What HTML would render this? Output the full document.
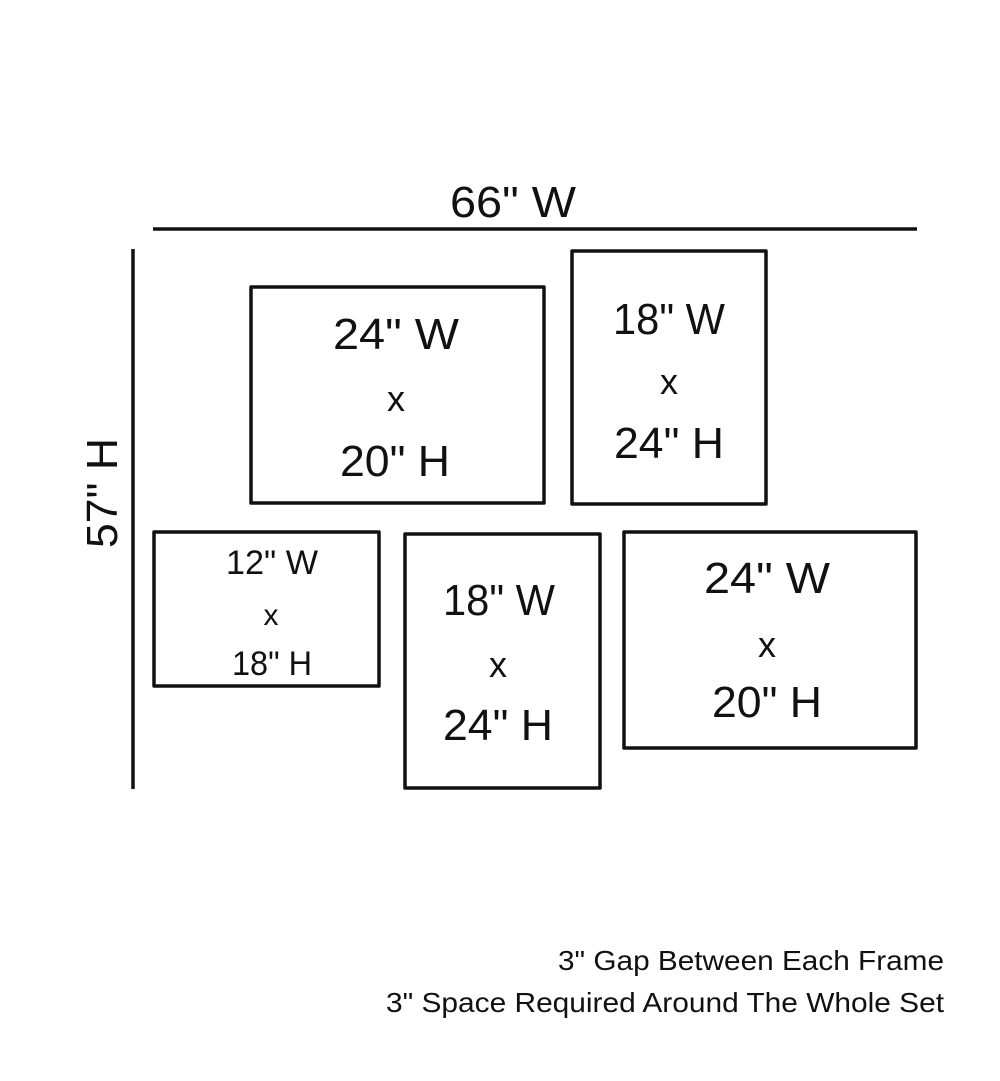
<!DOCTYPE html>
<html><head><meta charset="utf-8"><style>
html,body{margin:0;padding:0;background:#fff;}
svg{display:block}
text{font-family:"Liberation Sans",sans-serif;fill:#111;}
</style></head><body>
<svg width="1000" height="1081" viewBox="0 0 1000 1081" xmlns="http://www.w3.org/2000/svg">
<g stroke="#111" fill="none" stroke-width="3.5" stroke-linejoin="round">
<line x1="153" y1="229" x2="917" y2="229"/>
<line x1="133" y1="249" x2="133" y2="789"/>
<rect x="251" y="287" width="293" height="216"/>
<rect x="572" y="251" width="194" height="253"/>
<rect x="154" y="532" width="225" height="154"/>
<rect x="405" y="534" width="195" height="254"/>
<rect x="624" y="532" width="292" height="216"/>
</g>
<g text-anchor="middle">
<text x="513" y="217" font-size="44" textLength="126" lengthAdjust="spacingAndGlyphs">66" W</text>
<text transform="translate(117,493) rotate(-90)" font-size="44" textLength="110" lengthAdjust="spacingAndGlyphs">57" H</text>

<text x="396" y="349" font-size="44" textLength="126" lengthAdjust="spacingAndGlyphs">24" W</text>
<text x="396" y="411" font-size="36">x</text>
<text x="395" y="476" font-size="44" textLength="110" lengthAdjust="spacingAndGlyphs">20" H</text>

<text x="669" y="334" font-size="44" textLength="112" lengthAdjust="spacingAndGlyphs">18" W</text>
<text x="669" y="394" font-size="36">x</text>
<text x="669" y="458" font-size="44" textLength="110" lengthAdjust="spacingAndGlyphs">24" H</text>

<text x="272" y="574" font-size="34" textLength="92" lengthAdjust="spacingAndGlyphs">12" W</text>
<text x="271" y="625" font-size="30">x</text>
<text x="272" y="675" font-size="34" textLength="80" lengthAdjust="spacingAndGlyphs">18" H</text>

<text x="499" y="615" font-size="44" textLength="112" lengthAdjust="spacingAndGlyphs">18" W</text>
<text x="498" y="677" font-size="36">x</text>
<text x="498" y="740" font-size="44" textLength="110" lengthAdjust="spacingAndGlyphs">24" H</text>

<text x="767" y="593" font-size="44" textLength="126" lengthAdjust="spacingAndGlyphs">24" W</text>
<text x="767" y="657" font-size="36">x</text>
<text x="767" y="717" font-size="44" textLength="110" lengthAdjust="spacingAndGlyphs">20" H</text>
</g>
<g text-anchor="end" font-size="28">
<text x="944" y="970" textLength="386" lengthAdjust="spacingAndGlyphs">3" Gap Between Each Frame</text>
<text x="944" y="1012" textLength="558" lengthAdjust="spacingAndGlyphs">3" Space Required Around The Whole Set</text>
</g>
</svg>
</body></html>
